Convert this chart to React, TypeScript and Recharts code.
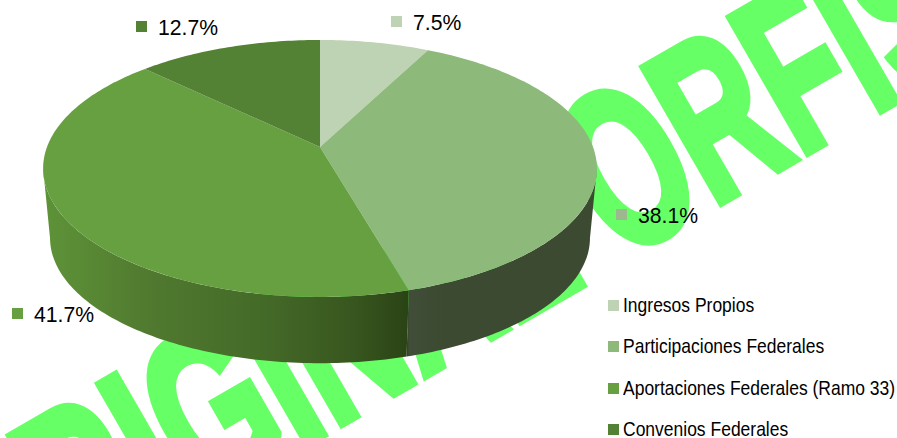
import { PieChart, Pie, Legend } from 'recharts'

const categories = [
  'Ingresos Propios',
  'Participaciones Federales',
  'Aportaciones Federales (Ramo 33)',
  'Convenios Federales',
]
const shares = [7.5, 38.1, 41.7, 12.7]
const sliceColors = ['#BDD3B3', '#8DB97A', '#67A041', '#548235']
const swatchColors = ['#BDD3B3', '#9DB88E', '#67A041', '#548235']
const labelSpots = [
  { x: 391, y: 16 },
  { x: 616, y: 209 },
  { x: 12, y: 308 },
  { x: 136, y: 21 },
]

const WIDTH = 897
const HEIGHT = 438
const RAD = Math.PI / 180

// perspective of the tilted disc: the far half is squashed compared to the near half
const TILT = 0.167
const SQUASH = 0.4575
const FLOOR_SCALE = 0.975
const DEPTH = 70

const data = categories.map((name, i) => ({ name, value: shares[i], fill: sliceColors[i] }))

function project(cx: number, cy: number, r: number, deg: number) {
  const u = Math.sin(deg * RAD)
  const v = Math.cos(deg * RAD)
  const w = 1 + TILT * v
  return { x: cx + (r * u) / w, y: cy - (r * SQUASH * v) / w }
}

function arcPoints(cx: number, cy: number, r: number, from: number, to: number) {
  const steps = Math.max(2, Math.ceil(Math.abs(to - from)))
  const pts = []
  for (let i = 0; i <= steps; i++) {
    pts.push(project(cx, cy, r, from + ((to - from) * i) / steps))
  }
  return pts
}

const toPath = (pts: { x: number; y: number }[]) =>
  pts.map((p, i) => `${i ? 'L' : 'M'}${p.x.toFixed(2)},${p.y.toFixed(2)}`).join(' ') + ' Z'

function DiscSlice(props: any) {
  const { cx, cy, outerRadius, startAngle, endAngle, fill, index } = props
  // recharts angles are counter-clockwise from 3 o'clock, here clockwise from 12
  const from = 90 - startAngle
  const to = 90 - endAngle
  const edge = 99.6
  const wallFrom = Math.max(from, edge)
  const wallTo = Math.min(to, 360 - edge)
  const top = [{ x: cx, y: cy }, ...arcPoints(cx, cy, outerRadius, from, to)]
  let wall = null
  if (wallTo > wallFrom) {
    const upper = arcPoints(cx, cy, outerRadius, wallFrom, wallTo)
    const lower = arcPoints(cx, cy + DEPTH, outerRadius * FLOOR_SCALE, wallFrom, wallTo).reverse()
    wall = <path d={toPath([...upper, ...lower])} fill={`url(#wall-${index})`} />
  }
  return (
    <g>
      {wall}
      <path d={toPath(top)} fill={fill} />
    </g>
  )
}

function SliceLabel(props: any) {
  const { index, value } = props
  const spot = labelSpots[index]
  return (
    <g>
      <rect x={spot.x} y={spot.y} width={11} height={11} fill={swatchColors[index]} />
      <text
        x={spot.x + 22}
        y={spot.y + 14}
        fontFamily="'Liberation Sans', Arial, sans-serif"
        fontSize={21.2}
        fill="#000"
      >
        {value}%
      </text>
    </g>
  )
}

function LegendRows({ payload }: any) {
  return (
    <div style={{ position: 'relative', width: 289, height: 142 }}>
      {(payload || []).map((entry: any, i: number) => (
        <div
          key={entry.value}
          style={{
            position: 'absolute',
            left: 0,
            top: i * 41.3,
            height: 24,
            whiteSpace: 'nowrap',
            fontFamily: "'Liberation Sans', Arial, sans-serif",
            fontSize: 20.6,
            lineHeight: '24px',
            color: '#000',
          }}
        >
          <span
            style={{
              position: 'absolute',
              left: 0,
              top: 7,
              width: 11,
              height: 11,
              background: entry.color,
            }}
          />
          {/* the labels are condensed in the original */}
          <span
            style={{
              position: 'absolute',
              left: 15,
              top: 0,
              transform: 'scaleX(0.849)',
              transformOrigin: 'left center',
            }}
          >
            {entry.value}
          </span>
        </div>
      ))}
    </div>
  )
}

function Watermark() {
  const style = {
    fontFamily: "'Liberation Sans', Arial, sans-serif",
    fontWeight: 700,
    fontSize: 225,
    fill: '#66FF66',
    stroke: '#66FF66',
    strokeWidth: 9,
  }
  return (
    <g>
      <text transform="translate(587,282) rotate(-30) scale(0.635,1)" textAnchor="end" {...style}>
        ORIGINAL
      </text>
      <text transform="translate(619,261) rotate(-30) scale(0.615,1)" {...style}>
        ORFIS
      </text>
    </g>
  )
}

export default function App() {
  return (
    <div style={{ position: 'absolute', left: 0, top: 0, width: WIDTH, height: HEIGHT, overflow: 'hidden', background: '#fff' }}>
      <PieChart width={WIDTH} height={HEIGHT} margin={{ top: 0, right: 0, bottom: 0, left: 0 }}>
        <defs>
          <linearGradient id="wall-1" x1="0" y1="0" x2="1" y2="0">
            <stop offset="0" stopColor="#2F3F27" />
            <stop offset="0.015" stopColor="#414D38" />
            <stop offset="0.2" stopColor="#3B4A31" />
            <stop offset="1" stopColor="#3B4A31" />
          </linearGradient>
          <linearGradient id="wall-2" x1="0" y1="0" x2="1" y2="0">
            <stop offset="0" stopColor="#5E9338" />
            <stop offset="0.3" stopColor="#50792F" />
            <stop offset="0.6" stopColor="#446A28" />
            <stop offset="0.85" stopColor="#38561F" />
            <stop offset="1" stopColor="#2A4315" />
          </linearGradient>
        </defs>
        <Watermark />
        <Pie
          data={data}
          dataKey="value"
          nameKey="name"
          cx={320}
          cy={147}
          innerRadius={0}
          outerRadius={273}
          startAngle={90}
          endAngle={-270}
          stroke="none"
          isAnimationActive={false}
          shape={DiscSlice}
          label={SliceLabel}
          labelLine={false}
        />
        <Legend
          layout="vertical"
          align="right"
          verticalAlign="top"
          itemSorter={null}
          content={<LegendRows />}
          wrapperStyle={{ left: 608, top: 293, right: 'auto', width: 289 }}
        />
      </PieChart>
    </div>
  )
}
